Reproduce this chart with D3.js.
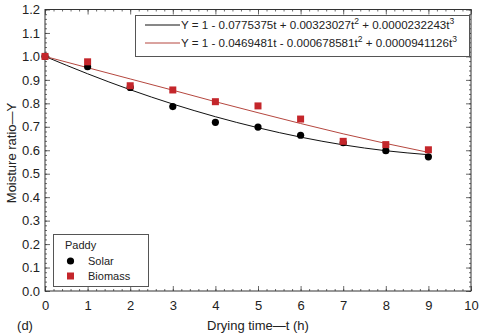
<!DOCTYPE html>
<meta charset="utf-8">
<title>Moisture ratio vs drying time</title>
<script src="https://d3js.org/d3.v7.min.js"></script>
<style>
body { margin: 0; background: #fff; }
text { font-family: "Liberation Sans", Arial, sans-serif; fill: #222; }
</style>
<body>
<div id="chart"></div>
<script>
// data
var hours = [0, 1, 2, 3, 4, 5, 6, 7, 8, 9];
var solar = [1.0, 0.956, 0.868, 0.786, 0.719, 0.699, 0.664, 0.632, 0.598, 0.572];
var biomass = [1.0, 0.977, 0.875, 0.857, 0.807, 0.789, 0.733, 0.638, 0.624, 0.602];
// fitted curves at each hour
var solarFit = [1.0, 0.926, 0.858, 0.797, 0.743, 0.696, 0.656, 0.623, 0.598, 0.581];
var biomassFit = [1.0, 0.952, 0.904, 0.856, 0.807, 0.760, 0.714, 0.670, 0.629, 0.591];
var xTicks = [0, 1, 2, 3, 4, 5, 6, 7, 8, 9, 10];
var yTicks = [0, 0.1, 0.2, 0.3, 0.4, 0.5, 0.6, 0.7, 0.8, 0.9, 1.0, 1.1, 1.2];

var red = "#c4262b";
var W = 480, H = 335;
var margin = {top: 9.5, right: 9, bottom: 44, left: 45};
var width = W - margin.left - margin.right,
    height = H - margin.top - margin.bottom;

var svg = d3.select("#chart").append("svg")
    .attr("width", W).attr("height", H);
var g = svg.append("g")
    .attr("transform", "translate(" + margin.left + "," + margin.top + ")");

var x = d3.scaleLinear().domain([0, 10]).range([0, width]);
var y = d3.scaleLinear().domain([0, 1.2]).range([height, 0]);

// minor ticks
var xMinor = d3.range(0, 10.001, 0.2);
var yMinor = d3.range(0, 1.2001, 0.02);

function tickStyle(sel) {
  sel.select(".domain").remove();
  sel.selectAll("line").attr("stroke", "#444").attr("stroke-width", 0.8);
}

// bottom
g.append("g").attr("transform", "translate(0," + height + ")")
  .call(d3.axisBottom(x).tickValues(xMinor).tickSize(-2).tickFormat(""))
  .call(tickStyle);
g.append("g").attr("transform", "translate(0," + height + ")")
  .call(d3.axisBottom(x).tickValues(xTicks).tickSize(-5).tickPadding(10).tickFormat(d3.format("d")))
  .call(tickStyle)
  .selectAll("text").style("font-size", "13px").attr("dy", "0.71em");
// top
g.append("g")
  .call(d3.axisTop(x).tickValues(xMinor).tickSize(-2).tickFormat(""))
  .call(tickStyle);
g.append("g")
  .call(d3.axisTop(x).tickValues(xTicks).tickSize(-5).tickFormat(""))
  .call(tickStyle);
// left
g.append("g")
  .call(d3.axisLeft(y).tickValues(yMinor).tickSize(-2).tickFormat(""))
  .call(tickStyle);
g.append("g")
  .call(d3.axisLeft(y).tickValues(yTicks).tickSize(-5).tickPadding(5).tickFormat(d3.format(".1f")))
  .call(tickStyle)
  .selectAll("text").style("font-size", "13px");
// right
g.append("g").attr("transform", "translate(" + width + ",0)")
  .call(d3.axisRight(y).tickValues(yMinor).tickSize(-2).tickFormat(""))
  .call(tickStyle);
g.append("g").attr("transform", "translate(" + width + ",0)")
  .call(d3.axisRight(y).tickValues(yTicks).tickSize(-5).tickFormat(""))
  .call(tickStyle);

// frame
g.append("rect").attr("width", width).attr("height", height)
  .attr("fill", "none").attr("stroke", "#333").attr("stroke-width", 1);

// fitted curves
var line = d3.line()
  .x(function(d, i) { return x(hours[i]); })
  .y(function(d) { return y(d); })
  .curve(d3.curveMonotoneX);

g.append("path").datum(solarFit).attr("d", line)
  .attr("fill", "none").attr("stroke", "#111").attr("stroke-width", 1);
g.append("path").datum(biomassFit).attr("d", line)
  .attr("fill", "none").attr("stroke", "#b5473f").attr("stroke-width", 1);

// points
g.append("g").selectAll("circle").data(solar).enter().append("circle")
  .attr("cx", function(d, i) { return x(hours[i]); })
  .attr("cy", function(d) { return y(d); })
  .attr("r", 3.6).attr("fill", "#000");
g.append("g").selectAll("rect").data(biomass).enter().append("rect")
  .attr("x", function(d, i) { return x(hours[i]) - 3.5; })
  .attr("y", function(d) { return y(d) - 3.5; })
  .attr("width", 7).attr("height", 7).attr("fill", red);

// equation legend
var eq = svg.append("g");
eq.append("rect").attr("x", 135.5).attr("y", 15.5).attr("width", 334).attr("height", 41)
  .attr("fill", "#fff").attr("stroke", "#555").attr("stroke-width", 1);
var eqs = [
  {c: "#111", y: 25, parts: ["Y = 1 - 0.0775375t + 0.00323027t", "2", " + 0.0000232243t", "3"]},
  {c: "#b5473f", y: 43, parts: ["Y = 1 - 0.0469481t - 0.000678581t", "2", " + 0.0000941126t", "3"]}
];
eqs.forEach(function(e) {
  eq.append("line").attr("x1", 145).attr("x2", 180).attr("y1", e.y).attr("y2", e.y)
    .attr("stroke", e.c).attr("stroke-width", 1);
  var t = eq.append("text").attr("x", 181).attr("y", e.y + 4).style("font-size", "11.6px");
  e.parts.forEach(function(p, i) {
    var ts = t.append("tspan").text(p);
    if (i % 2 === 1) ts.attr("dy", -5).style("font-size", "8.5px");
    else if (i > 0) ts.attr("dy", 5);
  });
});

// series legend
var lg = svg.append("g");
lg.append("rect").attr("x", 53.5).attr("y", 234.5).attr("width", 95).attr("height", 52)
  .attr("fill", "#fff").attr("stroke", "#555").attr("stroke-width", 1);
lg.append("text").attr("x", 65).attr("y", 249).style("font-size", "11px").text("Paddy");
lg.append("circle").attr("cx", 70.5).attr("cy", 261).attr("r", 3.6).attr("fill", "#000");
lg.append("text").attr("x", 88).attr("y", 265).style("font-size", "11px").text("Solar");
lg.append("rect").attr("x", 67).attr("y", 272.5).attr("width", 7).attr("height", 7).attr("fill", red);
lg.append("text").attr("x", 88).attr("y", 280).style("font-size", "11px").text("Biomass");

// axis titles
svg.append("text").attr("x", 258).attr("y", 330).attr("text-anchor", "middle")
  .style("font-size", "13px").text("Drying time\u2014t (h)");
svg.append("text").attr("x", 25).attr("y", 330).attr("text-anchor", "middle")
  .style("font-size", "13px").text("(d)");
svg.append("text").attr("transform", "translate(16,153) rotate(-90)")
  .attr("text-anchor", "middle").style("font-size", "13px").text("Moisture ratio\u2014Y");
</script>
</body>
